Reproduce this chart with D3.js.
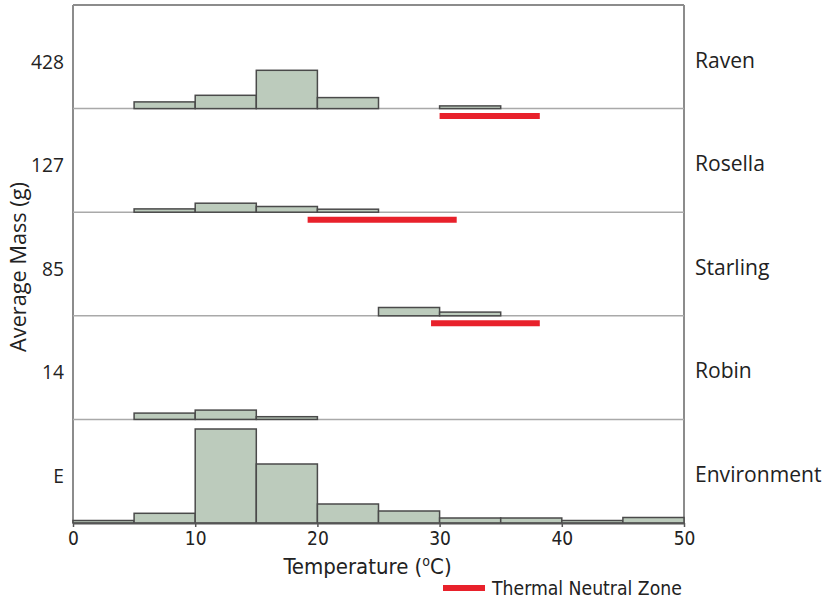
<!DOCTYPE html>
<html>
<head>
<meta charset="utf-8">
<script src="https://cdn.jsdelivr.net/npm/d3@7"></script>
<style>
  body { margin: 0; background: #fff; }
  svg { display: block; }
</style>
</head>
<body>
<svg id="chart"></svg>
<script>
const width = 829
const height = 600
const margin = {top: 5, right: 145, bottom: 77, left: 73}
const innerWidth = width - margin.left - margin.right
const innerHeight = height - margin.top - margin.bottom

// bins (lower edges, 5 degree wide)
const binStarts = [0, 5, 10, 15, 20, 25, 30, 35, 40, 45]
const binWidth = 5

const panelNames = ['Raven', 'Rosella', 'Starling', 'Robin', 'Environment']
const massLabels = ['428', '127', '85', '14', 'E']

// relative frequency per bin
const ravenFreq       = [0, 6.7, 13.3, 38.3, 11, 0, 2.7, 0, 0, 0]
const rosellaFreq     = [0, 3.3, 9, 5.7, 3, 0, 0, 0, 0, 0]
const starlingFreq    = [0, 0, 0, 0, 0, 8.3, 3.7, 0, 0, 0]
const robinFreq       = [0, 6.3, 9.3, 2.7, 0, 0, 0, 0, 0, 0]
const environmentFreq = [2.5, 9.7, 94, 59, 19, 12, 5, 5, 2.5, 5.5]
const panelFreq = [ravenFreq, rosellaFreq, starlingFreq, robinFreq, environmentFreq]

// thermal neutral zones [low, high] in degrees C
const tnzLow  = [30, 19.2, 29.3, null, null]
const tnzHigh = [38.2, 31.4, 38.2, null, null]

const xTicks = [0, 10, 20, 30, 40, 50]

const fillColor = '#bccbbc'
const redColor = '#e8212b'
const textColor = '#222'
const narrow = 'Liberation Sans Narrow, DejaVu Sans Condensed, sans-serif'
const regular = 'Open Sans, sans-serif'

const svg = d3.select('#chart')
  .attr('width', width)
  .attr('height', height)

// size a text so it spans the width seen in the picture
function fitText(sel, target) {
  const len = sel.node().getComputedTextLength()
  const fs = parseFloat(sel.attr('font-size'))
  sel.attr('font-size', (fs * target / len).toFixed(2))
  return sel
}

const x = d3.scaleLinear().domain([0, 50]).range([0, innerWidth])
const panelH = innerHeight / panelNames.length
const y = d3.scaleLinear().domain([0, 100]).range([0, 100])
const baseY = i => (i + 1) * panelH

const g = svg.append('g').attr('transform', `translate(${margin.left},${margin.top})`)

// frame
g.append('line').attr('x1', 0).attr('x2', innerWidth).attr('y1', 0).attr('y2', 0)
  .attr('stroke', '#8c8c8c').attr('stroke-width', 2)
g.append('line').attr('x1', 0).attr('x2', 0).attr('y1', 0).attr('y2', innerHeight)
  .attr('stroke', '#8c8c8c').attr('stroke-width', 2)
g.append('line').attr('x1', innerWidth).attr('x2', innerWidth).attr('y1', 0).attr('y2', innerHeight)
  .attr('stroke', '#8c8c8c').attr('stroke-width', 2)

const leftLabels = []
const rightLabels = []

panelNames.forEach((name, i) => {
  const b = baseY(i)
  const pg = g.append('g').attr('class', 'panel')

  // baseline
  if (i < panelNames.length - 1) {
    pg.append('line').attr('x1', 0).attr('x2', innerWidth).attr('y1', b).attr('y2', b)
      .attr('stroke', '#a9a9a9').attr('stroke-width', 1.5)
  }

  const data = binStarts.map((s, k) => ({x0: s, v: panelFreq[i][k]})).filter(d => d.v > 0)
  pg.selectAll('rect')
    .data(data)
    .enter()
    .append('rect')
    .attr('x', d => x(d.x0))
    .attr('width', d => x(d.x0 + binWidth) - x(d.x0))
    .attr('y', d => b - y(d.v))
    .attr('height', d => y(d.v))
    .attr('fill', fillColor)
    .attr('stroke', '#4a4a4a')
    .attr('stroke-width', 1.5)

  // thermal neutral zone
  if (tnzLow[i] != null) {
    pg.append('line')
      .attr('x1', x(tnzLow[i])).attr('x2', x(tnzHigh[i]))
      .attr('y1', b + 7.5).attr('y2', b + 7.5)
      .attr('stroke', redColor).attr('stroke-width', 6)
  }

  // labels
  leftLabels.push(g.append('text').text(massLabels[i])
    .attr('x', -9).attr('y', b - 40)
    .attr('text-anchor', 'end')
    .attr('font-family', regular)
    .attr('font-size', 19)
    .attr('fill', textColor))
  rightLabels.push(g.append('text').text(name)
    .attr('x', innerWidth + 11).attr('y', b - 41)
    .attr('font-family', regular)
    .attr('font-size', 19)
    .attr('fill', textColor))
})

// each side shares one size, taken from the top label
fitText(rightLabels[0], 60)
rightLabels.forEach(t => t.attr('font-size', rightLabels[0].attr('font-size')))
fitText(leftLabels[0], 33)
leftLabels.forEach(t => t.attr('font-size', leftLabels[0].attr('font-size')))

// x axis
const xAxis = d3.axisBottom(x).tickValues(xTicks).tickSize(4).tickSizeOuter(0)
const ax = g.append('g').attr('transform', `translate(0,${innerHeight})`).call(xAxis)
ax.select('.domain').attr('stroke', '#555').attr('stroke-width', 2)
ax.selectAll('.tick line').attr('stroke', '#555').attr('stroke-width', 1.5)
ax.selectAll('.tick text')
  .attr('font-family', narrow)
  .attr('font-size', 19)
  .attr('fill', textColor)
  .attr('dy', '0.8em')

// axis titles
const xt = g.append('text')
  .attr('x', innerWidth / 2 - 11).attr('y', innerHeight + 51)
  .attr('text-anchor', 'middle')
  .attr('font-family', narrow)
  .attr('font-size', 22)
  .attr('fill', textColor)
xt.append('tspan').text('Temperature (')
xt.append('tspan').text('o').attr('font-size', 14).attr('dy', -8)
xt.append('tspan').text('C)').attr('dy', 8)

const yt = svg.append('text').text('Average Mass (g)')
  .attr('transform', `translate(26,${margin.top + innerHeight / 2 + 3}) rotate(-90)`)
  .attr('text-anchor', 'middle')
  .attr('font-family', regular)
  .attr('font-size', 19)
  .attr('fill', textColor)
fitText(yt, 170)

// legend
const lg = svg.append('g').attr('transform', 'translate(443,588)')
lg.append('line').attr('x1', 0).attr('x2', 42).attr('y1', 0).attr('y2', 0)
  .attr('stroke', redColor).attr('stroke-width', 6)
const lt = lg.append('text').text('Thermal Neutral Zone')
  .attr('x', 49).attr('y', 6.5)
  .attr('font-family', narrow)
  .attr('font-size', 19)
  .attr('fill', textColor)
fitText(lt, 190)
</script>
</body>
</html>
